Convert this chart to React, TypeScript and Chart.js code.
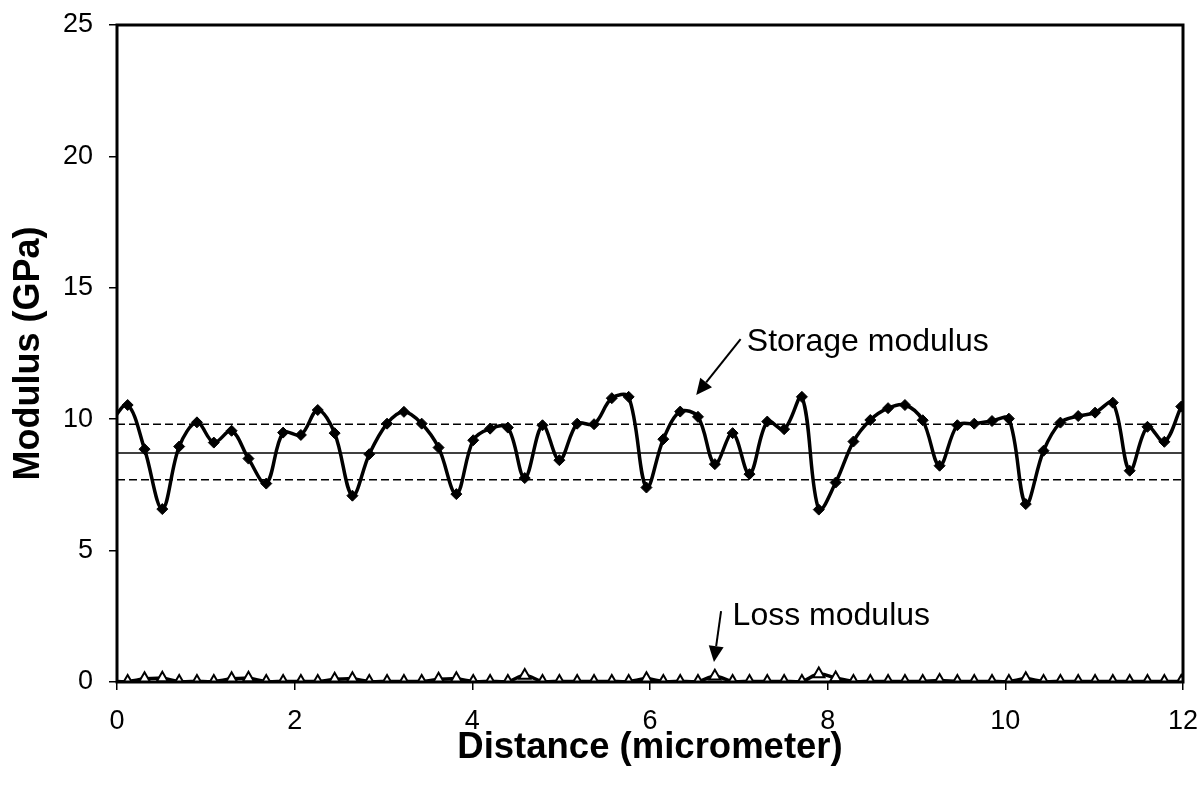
import React, { useEffect, useRef } from "react";
import { Chart, registerables } from "chart.js";

Chart.register(...registerables);

// Distance (micrometer) of each measurement point (first one lies just left of the axis)
const distance = [
  -0.07, 0.12, 0.31, 0.51, 0.7, 0.9, 1.09, 1.29, 1.48, 1.68, 1.87, 2.07, 2.26, 2.45, 2.65, 2.84,
  3.04, 3.23, 3.43, 3.62, 3.82, 4.01, 4.2, 4.4, 4.59, 4.79, 4.98, 5.18, 5.37, 5.57, 5.76,
  5.96, 6.15, 6.34, 6.54, 6.73, 6.93, 7.12, 7.32, 7.51, 7.71, 7.9, 8.09, 8.29, 8.48, 8.68,
  8.87, 9.07, 9.26, 9.46, 9.65, 9.85, 10.04, 10.23, 10.43, 10.62, 10.82, 11.01, 11.21, 11.4,
  11.6, 11.79, 11.98,
];

// Storage modulus (GPa)
const storageModulus = [
  9.9, 10.54, 8.86, 6.58, 8.96, 9.88, 9.11, 9.56, 8.5, 7.55, 9.49, 9.4, 10.35, 9.47, 7.09, 8.67,
  9.83, 10.28, 9.83, 8.92, 7.15, 9.2, 9.64, 9.68, 7.76, 9.77, 8.44, 9.83, 9.81, 10.8, 10.85,
  7.4, 9.24, 10.29, 10.09, 8.29, 9.47, 7.91, 9.91, 9.62, 10.85, 6.56, 7.59, 9.15, 9.97, 10.42,
  10.54, 9.96, 8.23, 9.77, 9.83, 9.93, 10.02, 6.77, 8.8, 9.87, 10.12, 10.25, 10.63, 8.04,
  9.71, 9.14, 10.48,
];

// Loss modulus (GPa)
const lossModulus = [
  0.02, 0.02, 0.12, 0.14, 0.02, 0.02, 0.02, 0.12, 0.14, 0.02, 0.02, 0.02, 0.02, 0.1, 0.12, 0.02,
  0.02, 0.02, 0.02, 0.1, 0.12, 0.02, 0.02, 0.02, 0.25, 0.02, 0.02, 0.02, 0.02, 0.02, 0.02,
  0.12, 0.02, 0.02, 0.02, 0.22, 0.02, 0.02, 0.02, 0.02, 0.02, 0.3, 0.15, 0.02, 0.02, 0.02,
  0.02, 0.02, 0.06, 0.02, 0.02, 0.02, 0.02, 0.12, 0.02, 0.02, 0.02, 0.02, 0.02, 0.02,
  0.02, 0.02, 0.02,
];

// Reference lines: mean and mean ± standard deviation of the storage modulus
const refLineX = [0, 12];
const meanStorage = 8.71;
const upperStorage = 9.81;
const lowerStorage = 7.7;

// Axis ranges / ticks
const xTicks = [0, 2, 4, 6, 8, 10, 12];
const yTicks = [0, 5, 10, 15, 20, 25];

// Annotations (data coordinates)
const annotationLabels = ["Storage modulus", "Loss modulus"];
const annotationTextX = [7.09, 6.93];
const annotationTextY = [12.59, 2.15];
const arrowFromX = [7.02, 6.8];
const arrowFromY = [13.05, 2.7];
const arrowToX = [6.52, 6.72];
const arrowToY = [10.92, 0.76];

const FONT = "'Liberation Sans', Arial, Helvetica, sans-serif";

const overlayPlugin = {
  id: "overlay",
  afterDatasetsDraw(chart: any) {
    const { ctx, chartArea, scales } = chart;
    const xs = scales.x;
    const ys = scales.y;
    ctx.save();
    // frame
    ctx.strokeStyle = "#000";
    ctx.lineWidth = 3;
    ctx.strokeRect(chartArea.left, chartArea.top, chartArea.right - chartArea.left, chartArea.bottom - chartArea.top);

    // annotations
    ctx.fillStyle = "#000";
    ctx.font = `32px ${FONT}`;
    ctx.textAlign = "left";
    ctx.textBaseline = "alphabetic";
    annotationLabels.forEach((label, i) => {
      ctx.fillText(label, xs.getPixelForValue(annotationTextX[i]), ys.getPixelForValue(annotationTextY[i]));
      const x0 = xs.getPixelForValue(arrowFromX[i]);
      const y0 = ys.getPixelForValue(arrowFromY[i]);
      const x1 = xs.getPixelForValue(arrowToX[i]);
      const y1 = ys.getPixelForValue(arrowToY[i]);
      const ang = Math.atan2(y1 - y0, x1 - x0);
      const headLen = 16;
      const headHalf = 7.5;
      const bx = x1 - Math.cos(ang) * headLen;
      const by = y1 - Math.sin(ang) * headLen;
      ctx.lineWidth = 2;
      ctx.beginPath();
      ctx.moveTo(x0, y0);
      ctx.lineTo(bx, by);
      ctx.stroke();
      ctx.beginPath();
      ctx.moveTo(x1, y1);
      ctx.lineTo(bx + Math.sin(ang) * headHalf, by - Math.cos(ang) * headHalf);
      ctx.lineTo(bx - Math.sin(ang) * headHalf, by + Math.cos(ang) * headHalf);
      ctx.closePath();
      ctx.fill();
    });
    ctx.restore();
  },
};

export default function App() {
  const canvasRef = useRef<HTMLCanvasElement | null>(null);

  useEffect(() => {
    if (!canvasRef.current) return;
    const toPts = (ys: number[]) => distance.map((x, i) => ({ x, y: ys[i] }));
    const hidden = distance.map((x) => (x < 0 ? 0 : 1));
    const chart = new Chart(canvasRef.current, {
      type: "line",
      data: {
        datasets: [
          {
            label: "Storage modulus",
            data: toPts(storageModulus),
            borderColor: "#000",
            backgroundColor: "#000",
            borderWidth: 3.5,
            tension: 0.35,
            pointStyle: "rectRot",
            pointRadius: hidden.map((h) => h * 5.5),
            pointBorderWidth: 1,
            pointBackgroundColor: "#000",
            pointBorderColor: "#000",
            fill: false,
          },
          {
            label: "Loss modulus",
            data: toPts(lossModulus),
            borderColor: "#000",
            backgroundColor: "#fff",
            borderWidth: 3.5,
            tension: 0.35,
            pointStyle: "triangle",
            pointRadius: hidden.map((h) => h * 6.5),
            pointBorderWidth: 2,
            pointBackgroundColor: "#fff",
            pointBorderColor: "#000",
            fill: false,
          },
          {
            label: "Mean",
            data: refLineX.map((x) => ({ x, y: meanStorage })),
            borderColor: "#000",
            borderWidth: 1.5,
            pointRadius: 0,
            tension: 0,
          },
          {
            label: "Mean + SD",
            data: refLineX.map((x) => ({ x, y: upperStorage })),
            borderColor: "#000",
            borderWidth: 1.5,
            borderDash: [8, 4],
            pointRadius: 0,
            tension: 0,
          },
          {
            label: "Mean - SD",
            data: refLineX.map((x) => ({ x, y: lowerStorage })),
            borderColor: "#000",
            borderWidth: 1.5,
            borderDash: [8, 4],
            pointRadius: 0,
            tension: 0,
          },
        ],
      },
      options: {
        responsive: false,
        animation: false,
        devicePixelRatio: 1,
        layout: { padding: { left: 0, top: 25, right: 17, bottom: 0 } },
        plugins: {
          legend: { display: false },
          tooltip: { enabled: false },
        },
        scales: {
          x: {
            type: "linear",
            min: xTicks[0],
            max: xTicks[xTicks.length - 1],
            afterFit: (s: any) => {
              s.height = 117;
              s.paddingLeft = 0;
              s.paddingRight = 0;
            },
            afterBuildTicks: (s: any) => {
              s.ticks = xTicks.map((v) => ({ value: v }));
            },
            ticks: {
              color: "#000",
              font: { family: FONT, size: 27 },
              padding: 15,
              maxRotation: 0,
            },
            grid: {
              display: true,
              drawOnChartArea: false,
              drawTicks: true,
              tickLength: 8,
              color: "#000",
              lineWidth: 1.5,
            },
            border: { display: false },
            title: {
              display: true,
              text: "Distance (micrometer)",
              color: "#000",
              font: { family: FONT, size: 36.5, weight: "bold" },
              padding: { top: 0, bottom: 29 },
            },
          },
          y: {
            type: "linear",
            min: yTicks[0],
            max: yTicks[yTicks.length - 1],
            afterFit: (s: any) => {
              s.width = 117;
              s.paddingTop = 0;
              s.paddingBottom = 0;
            },
            afterBuildTicks: (s: any) => {
              s.ticks = yTicks.map((v) => ({ value: v }));
            },
            ticks: {
              color: "#000",
              font: { family: FONT, size: 27 },
              padding: 16,
            },
            grid: {
              display: true,
              drawOnChartArea: false,
              drawTicks: true,
              tickLength: 8,
              color: "#000",
              lineWidth: 1.5,
            },
            border: { display: false },
            title: {
              display: true,
              text: "Modulus (GPa)",
              color: "#000",
              font: { family: FONT, size: 36, weight: "bold" },
              padding: { top: 7, bottom: 0 },
            },
          },
        },
      } as any,
      plugins: [overlayPlugin],
    });
    return () => chart.destroy();
  }, []);

  return (
    <div style={{ position: "absolute", left: 0, top: 0, width: 1200, height: 799, background: "#fff" }}>
      <canvas ref={canvasRef} width={1200} height={799} />
    </div>
  );
}
